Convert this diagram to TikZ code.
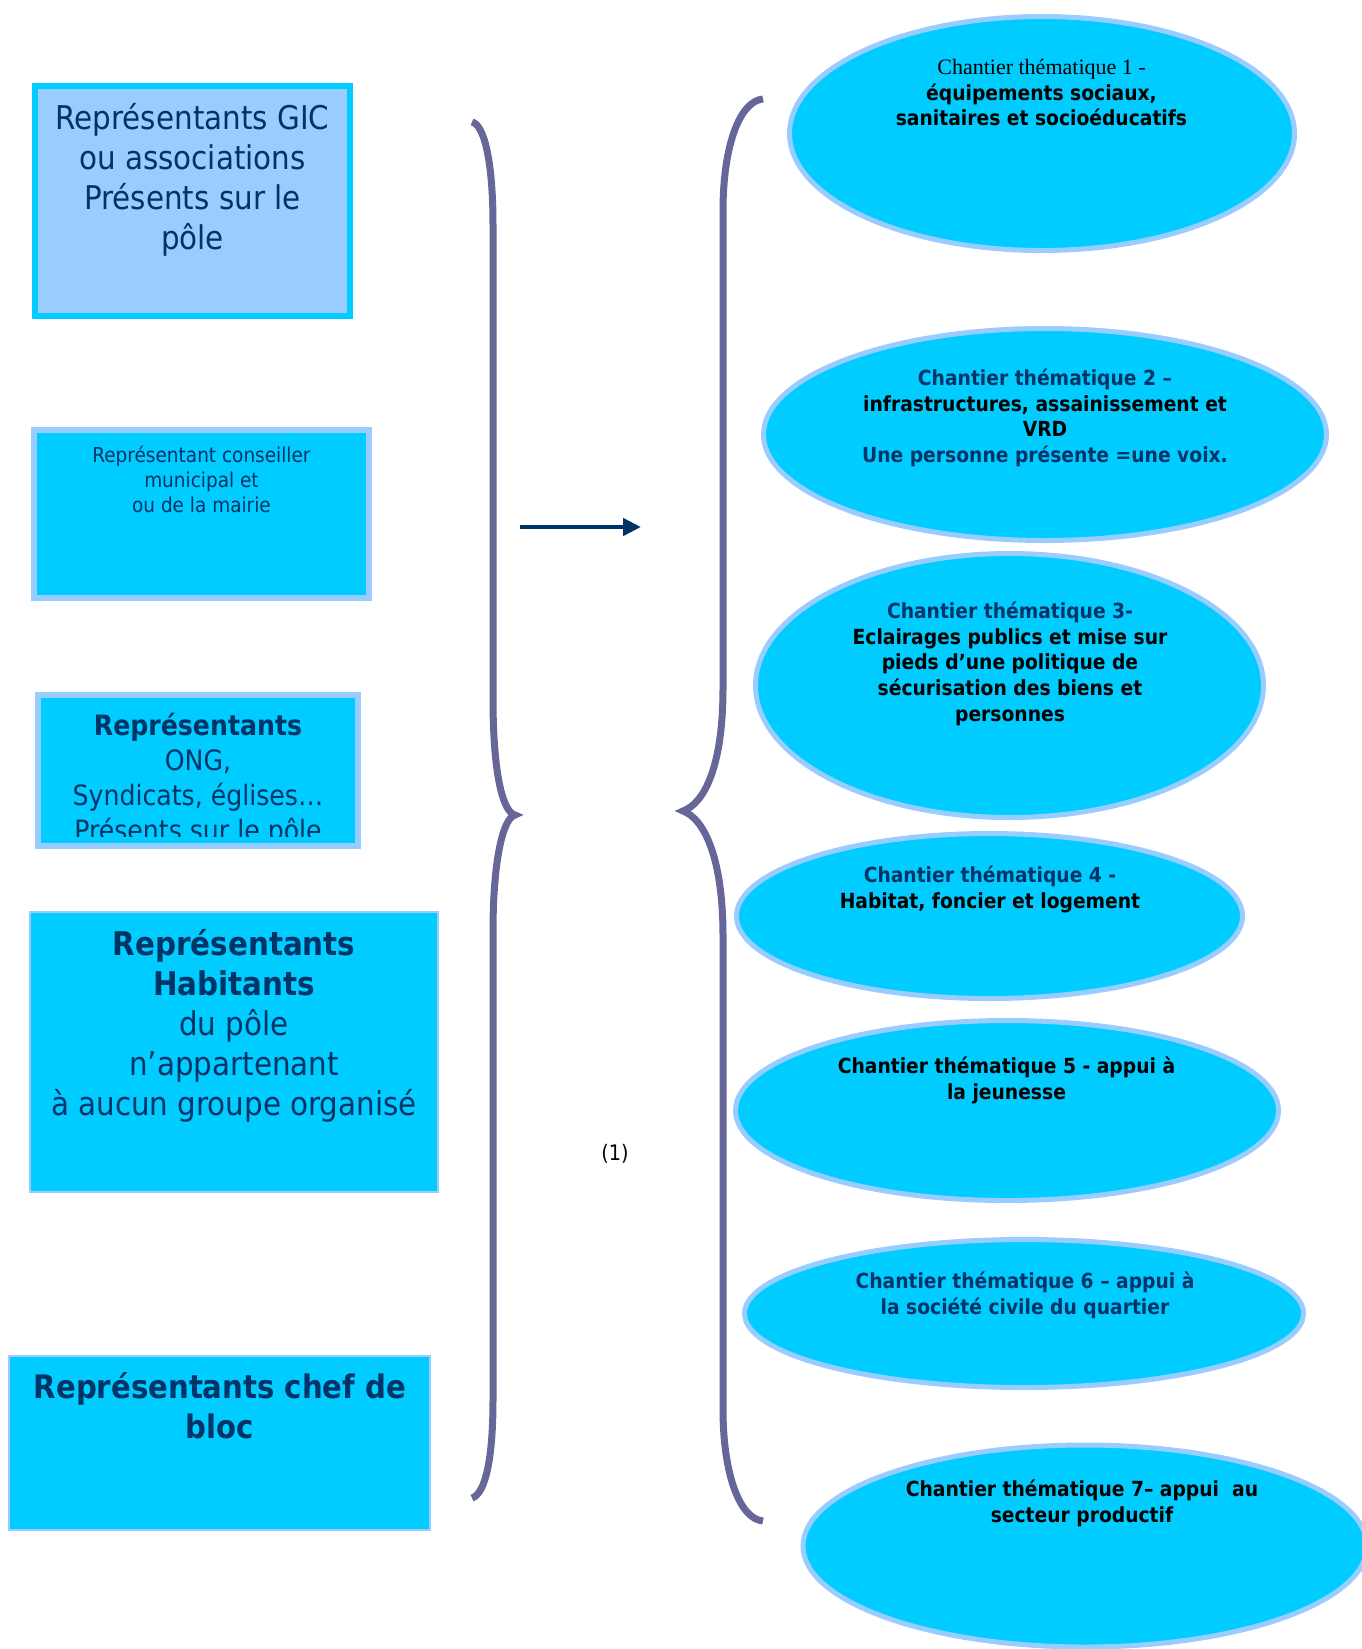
\documentclass[tikz,border=0pt]{standalone}
\usepackage{fontspec}
\usepackage{amsmath}
\usepackage{tikz}
\usetikzlibrary{shapes.geometric,arrows.meta}
\newfontfamily\tahoma{DejaVu Sans Condensed}
\newfontfamily\garamond{Liberation Serif}
\definecolor{navytext}{RGB}{0,51,102}

\begin{document}
\begin{tikzpicture}[x=0.75pt,y=0.75pt,yscale=-1,xscale=1,
	box pale/.style={draw={rgb, 255:red, 0; green, 204; blue, 255 }, fill={rgb, 255:red, 153; green, 204; blue, 255 }, line width=4.5pt, inner sep=0pt},
	box cyan/.style={draw={rgb, 255:red, 153; green, 204; blue, 255 }, fill={rgb, 255:red, 0; green, 204; blue, 255 }, line width=4.5pt, inner sep=0pt},
	box cyan thin/.style={box cyan, line width=1.5pt},
	chantier/.style={ellipse, draw={rgb, 255:red, 153; green, 204; blue, 255 }, fill={rgb, 255:red, 0; green, 204; blue, 255 }, line width=3.75pt, inner sep=0pt},
	boxtext/.style={anchor=north, inner sep=0pt, align=center, text=navytext},
	chtext/.style={anchor=north, inner sep=0pt, align=center, text=black, font=\tahoma\bfseries\fontsize{15.6}{19.3}\selectfont},
	brace/.style={draw={rgb, 255:red, 102; green, 102; blue, 153 }, line width=5.25pt},
	]
	%uncomment if require: \path (0,1649); %set diagram left start at 0, and has height of 1649
	\useasboundingbox (0,0) rectangle (1362,1649);
	
	%Shape: Rectangle [GIC]
	\draw (192.5,201) node [box pale, minimum width=236.25pt, minimum height=172.5pt] (gic) {};
	%Shape: Rectangle [conseiller]
	\draw (201.5,514) node [box cyan, minimum width=251.25pt, minimum height=126pt] (conseil) {};
	%Shape: Rectangle [ONG]
	\draw (198,770.5) node [box cyan, minimum width=240pt, minimum height=113.25pt] (ong) {};
	%Shape: Rectangle [habitants]
	\draw (234,1052) node [box cyan thin, minimum width=305.6pt, minimum height=209.6pt] (habit) {};
	%Shape: Rectangle [chef de bloc]
	\draw (219.5,1443) node [box cyan thin, minimum width=315.4pt, minimum height=130.1pt] (chef) {};
	
	%Shape: Ellipse [chantiers 1..7]
	\draw (1042,133.5) node [chantier, minimum width=378.75pt, minimum height=175.5pt] (ch1) {};
	\draw (1045,434.5) node [chantier, minimum width=422.25pt, minimum height=159pt] (ch2) {};
	\draw (1009.5,685.5) node [chantier, minimum width=381pt, minimum height=198pt] (ch3) {};
	\draw (989.5,916) node [chantier, minimum width=379.5pt, minimum height=123.75pt] (ch4) {};
	\draw (1007,1110.5) node [chantier, minimum width=407.25pt, minimum height=135pt] (ch5) {};
	\draw (1024,1313.5) node [chantier, minimum width=419.25pt, minimum height=111pt] (ch6) {};
	\draw (1085,1546) node [chantier, minimum width=423pt, minimum height=151.5pt] (ch7) {};
	
	%Curve Lines [left brace]
	\draw [brace] (472,122) .. controls (485,125) and (493,165) .. (493,225) -- (493,698) .. controls (493,775) and (503,812) .. (515,815) .. controls (503,818) and (493,860) .. (493,932) -- (493,1400) .. controls (493,1460) and (485,1494) .. (472,1498) ;
	%Curve Lines [right brace]
	\draw [brace] (763,99) .. controls (740,101) and (723,145) .. (723,211) -- (723,688) .. controls (723,765) and (705,803) .. (683,811) .. controls (705,819) and (723,860) .. (723,936) -- (723,1409) .. controls (723,1475) and (740,1519) .. (763,1521) ;
	
	%Straight Lines [arrow]
	\coordinate (arrS) at (520,527);
	\coordinate (arrE) at (641,527);
	\draw [color={rgb, 255:red, 0; green, 51; blue, 102 }, line width=3.4pt, -{Triangle[length=13.5pt,width=12.75pt]}] (arrS) -- (arrE) ;
	
	% Text Node
	\draw (192.5,101) node [boxtext, font=\tahoma\fontsize{24.5}{30}\selectfont] (gictxt) {\strut Représentants GIC\\ou associations\\Présents sur le\\pôle};
	% Text Node
	\draw (201.5,444.5) node [boxtext, font=\tahoma\fontsize{15.4}{18.75}\selectfont] (conseiltxt) {\strut Représentant conseiller\\municipal et\\ou de la mairie};
	% Text Node
	\begin{scope}
		\clip (41,698) rectangle (355,836);
		\draw (198,711) node [boxtext, font=\tahoma\fontsize{21}{26.25}\selectfont] (ongtxt) {\strut\textbf{Représentants}\\ONG,\\Syndicats, églises…\\Présents sur le pôle};
	\end{scope}
	% Text Node
	\draw (234,927) node [boxtext, font=\tahoma\fontsize{24.5}{30}\selectfont] (habittxt) {\strut\textbf{Représentants}\\\textbf{Habitants}\\du pôle\\n’appartenant\\à aucun groupe organisé};
	% Text Node
	\draw (220,1370) node [boxtext, font=\tahoma\bfseries\fontsize{24.3}{30}\selectfont] (cheftxt) {\strut Représentants chef de\\bloc};
	
	% Text Node
	\draw (1041.5,56) node [chtext] (ch1txt) {{\garamond\mdseries\fontsize{16.5}{19.3}\selectfont\strut Chantier thématique 1 -}\\équipements sociaux,\\sanitaires et socioéducatifs};
	% Text Node
	\draw (1045,367) node [chtext] (ch2txt) {{\color{navytext}\strut Chantier thématique 2 –}\\infrastructures, assainissement et\\VRD\\{\color{navytext}Une personne présente =une voix.}};
	% Text Node
	\draw (1010,600) node [chtext] (ch3txt) {{\color{navytext}\strut Chantier thématique 3-}\\Eclairages publics et mise sur\\pieds d’une politique de\\sécurisation des biens et\\personnes};
	% Text Node
	\draw (990,864) node [chtext] (ch4txt) {{\color{navytext}\strut Chantier thématique 4 -}\\Habitat, foncier et logement};
	% Text Node
	\draw (1006.5,1055) node [chtext] (ch5txt) {\strut Chantier thématique 5 - appui à\\la jeunesse};
	% Text Node
	\draw (1025,1270) node [chtext, text=navytext] (ch6txt) {\strut Chantier thématique 6 – appui à\\la société civile du quartier};
	% Text Node
	\draw (1082,1478) node [chtext] (ch7txt) {\strut Chantier thématique 7– appui~ au\\secteur productif};
	
	% Text Node
	\draw (615,1154) node [inner sep=0.75pt, font=\tahoma\fontsize{16}{19}\selectfont] (note) {(1)};
	
\end{tikzpicture}
\end{document}
